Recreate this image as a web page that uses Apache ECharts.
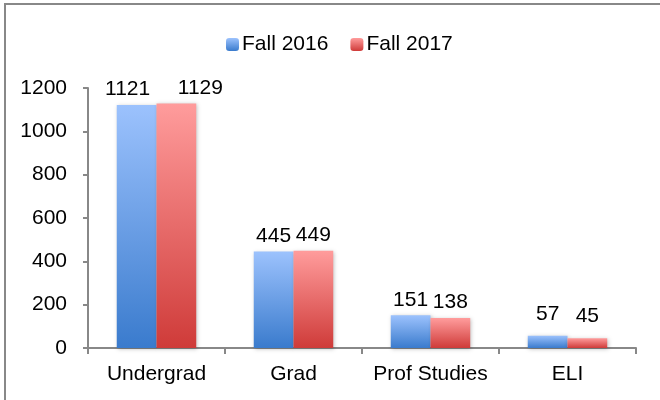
<!DOCTYPE html>
<html>
<head>
<meta charset="utf-8">
<script src="https://cdn.jsdelivr.net/npm/echarts@6/dist/echarts.min.js"></script>
<style>
  html, body { margin: 0; padding: 0; background: #fff; }
  #frame { position: absolute; left: 4px; top: 3px; width: 700px; height: 420px;
           border-left: 2px solid #888; border-top: 2px solid #888; }
  #main { position: absolute; left: 0; top: 0; width: 660px; height: 400px; }
</style>
</head>
<body>
<div id="frame"></div>
<div id="main"></div>
<script>
const categories = ['Undergrad', 'Grad', 'Prof Studies', 'ELI'];
const fall2016 = [1121, 445, 151, 57];
const fall2017 = [1129, 449, 138, 45];
const yTicks = [0, 200, 400, 600, 800, 1000, 1200];

const font = 'Liberation Sans, Arial, sans-serif';

const grad = (top, bottom) => new echarts.graphic.LinearGradient(0, 0, 0, 1, [
    { offset: 0, color: top },
    { offset: 1, color: bottom }
]);
const blue = grad('#9cc2fd', '#3a7bcd');
const red = grad('#ff9c9c', '#cf3b39');

const label = {
    show: true,
    position: 'top',
    distance: 5,
    color: '#000',
    fontSize: 21,
    fontFamily: font
};

// some labels are nudged like in the original (Excel spread them to avoid collisions)
const withNudge = (arr, offsets) => arr.map((v, i) => offsets[i] ? { value: v, label: { offset: offsets[i] } } : v);

const shadow = { shadowColor: 'rgba(0,0,0,0.25)', shadowBlur: 4, shadowOffsetX: 1, shadowOffsetY: 1 };

const chart = echarts.init(document.getElementById('main'));
chart.setOption({
    animation: false,
    textStyle: { fontFamily: font },
    legend: {
        top: 29,
        left: 221,
        itemWidth: 13,
        itemHeight: 13,
        itemGap: 22,
        textStyle: { fontSize: 21, color: '#000', padding: [0, 0, 0, -2] },
        data: ['Fall 2016', 'Fall 2017']
    },
    grid: { left: 88, right: 24, top: 88, bottom: 52 },
    xAxis: {
        type: 'category',
        data: categories,
        axisLine: { lineStyle: { color: '#888', width: 2 } },
        axisTick: { show: true, length: 6, lineStyle: { color: '#888', width: 2 } },
        axisLabel: { fontSize: 21, color: '#000', margin: 16, interval: 0 }
    },
    yAxis: {
        type: 'value',
        min: yTicks[0],
        max: yTicks[yTicks.length - 1],
        interval: yTicks[1] - yTicks[0],
        axisLine: { show: true, lineStyle: { color: '#888', width: 2 } },
        axisTick: { show: true, length: 5, lineStyle: { color: '#888', width: 2 } },
        axisLabel: { fontSize: 21, color: '#000', margin: 21, formatter: v => String(v) },
        splitLine: { show: false }
    },
    series: [
        {
            name: 'Fall 2016',
            type: 'bar',
            data: withNudge(fall2016, [[-9, 0], null, null, [0, -6]]),
            barGap: '0%',
            barCategoryGap: '42%',
            itemStyle: Object.assign({ color: blue }, shadow),
            label
        },
        {
            name: 'Fall 2017',
            type: 'bar',
            data: withNudge(fall2017, [[24, 0], null, null, [0, -7]]),
            barGap: '0%',
            barCategoryGap: '42%',
            itemStyle: Object.assign({ color: red }, shadow),
            label
        }
    ]
});
</script>
</body>
</html>
